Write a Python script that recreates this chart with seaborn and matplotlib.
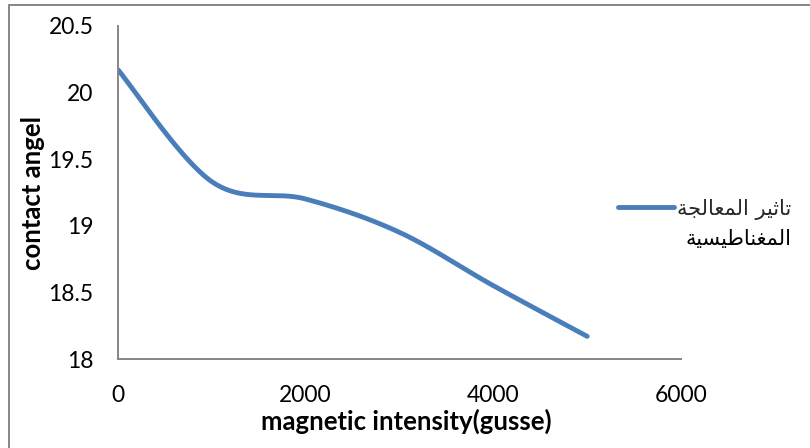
import numpy as np
import pandas as pd
import matplotlib
matplotlib.use("Agg")
import matplotlib.pyplot as plt
from matplotlib.lines import Line2D
import seaborn as sns

# ---- data ----
field_gauss = [0, 1000, 2000, 3000, 4000, 5000]
contact_angle = [20.17, 19.33, 19.20, 18.95, 18.55, 18.17]
series_label = "تاثير المعالجة المغناطيسية"
x_label = "magnetic intensity(gusse)"
y_label = "contact angel"
x_ticks = [0, 2000, 4000, 6000]
y_ticks = [18, 18.5, 19, 19.5, 20, 20.5]

LINE_COLOR = "#4A7EBB"
AXIS_GREY = "#868686"


def excel_smooth(xs, ys, n=40):
    """Excel-style smoothed line (Catmull-Rom as cubic Bezier)."""
    xs = np.asarray(xs, float)
    ys = np.asarray(ys, float)
    px = np.concatenate([[xs[0]], xs, [xs[-1]]])
    py = np.concatenate([[ys[0]], ys, [ys[-1]]])
    out_x, out_y = [], []
    t = np.linspace(0, 1, n)
    for i in range(1, len(px) - 2):
        p0 = np.array([px[i], py[i]])
        p3 = np.array([px[i + 1], py[i + 1]])
        c1 = p0 + (p3 - np.array([px[i - 1], py[i - 1]])) / 6.0
        c2 = p3 - (np.array([px[i + 2], py[i + 2]]) - p0) / 6.0
        b = ((1 - t) ** 3)[:, None] * p0 + (3 * (1 - t) ** 2 * t)[:, None] * c1 \
            + (3 * (1 - t) * t ** 2)[:, None] * c2 + (t ** 3)[:, None] * p3
        if i > 1:
            b = b[1:]
        out_x.extend(b[:, 0])
        out_y.extend(b[:, 1])
    return np.array(out_x), np.array(out_y)


# Arabic contextual shaping (matplotlib 3.10 has no complex text layout)
_FORMS = {
    "\u0627": ("\uFE8D", "\uFE8E", None, None),
    "\u0629": ("\uFE93", "\uFE94", None, None),
    "\u062A": ("\uFE95", "\uFE96", "\uFE97", "\uFE98"),
    "\u062B": ("\uFE99", "\uFE9A", "\uFE9B", "\uFE9C"),
    "\u062C": ("\uFE9D", "\uFE9E", "\uFE9F", "\uFEA0"),
    "\u0631": ("\uFEAD", "\uFEAE", None, None),
    "\u0633": ("\uFEB1", "\uFEB2", "\uFEB3", "\uFEB4"),
    "\u0637": ("\uFEC1", "\uFEC2", "\uFEC3", "\uFEC4"),
    "\u0639": ("\uFEC9", "\uFECA", "\uFECB", "\uFECC"),
    "\u063A": ("\uFECD", "\uFECE", "\uFECF", "\uFED0"),
    "\u0644": ("\uFEDD", "\uFEDE", "\uFEDF", "\uFEE0"),
    "\u0645": ("\uFEE1", "\uFEE2", "\uFEE3", "\uFEE4"),
    "\u0646": ("\uFEE5", "\uFEE6", "\uFEE7", "\uFEE8"),
    "\u064A": ("\uFEF1", "\uFEF2", "\uFEF3", "\uFEF4"),
}


def shape_arabic(s):
    out = []
    for i, ch in enumerate(s):
        f = _FORMS.get(ch)
        if f is None:
            out.append(ch)
            continue
        prev = s[i - 1] if i > 0 else None
        nxt = s[i + 1] if i + 1 < len(s) else None
        join_prev = prev in _FORMS and _FORMS[prev][2] is not None
        join_next = f[2] is not None and nxt in _FORMS
        if join_prev and join_next:
            out.append(f[3])
        elif join_prev:
            out.append(f[1])
        elif join_next:
            out.append(f[2])
        else:
            out.append(f[0])
    return "".join(out)[::-1]


sns.set_theme(style="white")
plt.rcParams["font.family"] = ["Lato", "DejaVu Sans"]

fig = plt.figure(figsize=(8.1, 4.48), dpi=100)
ax = fig.add_axes([118 / 810, 1 - 359 / 448, (681 - 118) / 810, (359 - 25.7) / 448])

sx, sy = excel_smooth(field_gauss, contact_angle)
df = pd.DataFrame({"x": sx, "y": sy})
sns.lineplot(data=df, x="x", y="y", sort=False, ax=ax, color=LINE_COLOR,
             linewidth=3.5, solid_capstyle="round", legend=False)

ax.set_xlim(0, 6000)
ax.set_ylim(18, 20.5)
ax.set_xticks(x_ticks)
ax.set_yticks(y_ticks)
ax.set_xticklabels([str(v) for v in x_ticks])
ax.set_yticklabels([f"{v:g}" for v in y_ticks])

for side in ["top", "right"]:
    ax.spines[side].set_visible(False)
for side in ["left", "bottom"]:
    ax.spines[side].set_color(AXIS_GREY)
    ax.spines[side].set_linewidth(1.4)

ax.tick_params(axis="both", which="major", direction="out", length=6.5, width=1.4,
               color=AXIS_GREY, labelsize=16.5, labelcolor="black")
ax.tick_params(axis="y", pad=11)
ax.tick_params(axis="x", pad=12)
ax.grid(False)

ax.set_xlabel(x_label, fontsize=18.5, fontweight="bold", color="black")
ax.set_ylabel(y_label, fontsize=18.5, fontweight="bold", color="black")
ax.xaxis.set_label_coords((406 - 118) / (681 - 118), -(421 - 359) / (359 - 25.7))
ax.yaxis.set_label_coords(-(118 - 33) / (681 - 118), (359 - 193) / (359 - 25.7))
ax.xaxis.label.set_va("center")
ax.yaxis.label.set_va("center")

# legend (handle on the left, Arabic label wrapped on two lines)
words = series_label.split(" ")
line1 = shape_arabic(" ".join(words[:2]))
line2 = shape_arabic(" ".join(words[2:]))
handle = Line2D([], [], color=LINE_COLOR, linewidth=3.5, solid_capstyle="round")
leg = ax.legend([handle], [line1], loc="center left",
                bbox_to_anchor=(618 / 810, 1 - 209 / 448), bbox_transform=fig.transFigure,
                frameon=False, handlelength=2.7, handletextpad=0.15, borderpad=0, borderaxespad=0,
                prop={"family": "DejaVu Sans", "size": 15})
leg.set_clip_on(False)

fig.canvas.draw()
tb = leg.get_texts()[0].get_window_extent(fig.canvas.get_renderer())
fig.text(tb.x1 / fig.bbox.width, (1 - 239 / 448), line2, ha="right", va="center",
         family="DejaVu Sans", fontsize=15, color="black")

# chart border (left and top edges visible)
fig.add_artist(Line2D([9 / 810, 9 / 810], [0, 1 - 5 / 448], transform=fig.transFigure,
                      color=AXIS_GREY, linewidth=1.4))
fig.add_artist(Line2D([9 / 810, 1], [1 - 5 / 448, 1 - 5 / 448], transform=fig.transFigure,
                      color=AXIS_GREY, linewidth=1.4))

fig.savefig("out.png", dpi=100)
